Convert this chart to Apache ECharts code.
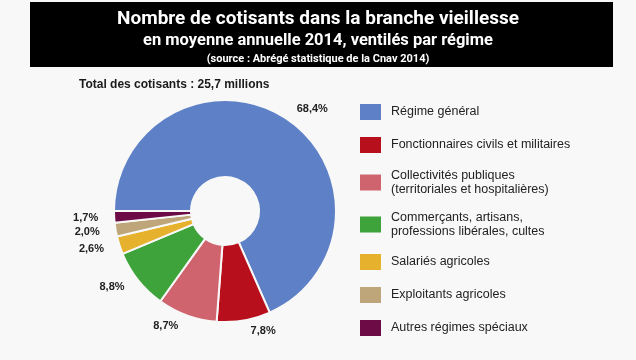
<!DOCTYPE html>
<html><head><meta charset="utf-8">
<script src="https://cdn.jsdelivr.net/npm/echarts@6/dist/echarts.min.js"></script>
<style>html,body{margin:0;padding:0;background:#f8f8f8}#c{width:636px;height:360px}</style>
</head><body><div id="c"></div>
<script>
const categories = [
  'Régime général',
  'Fonctionnaires civils et militaires',
  'Collectivités publiques\n(territoriales et hospitalières)',
  'Commerçants, artisans,\nprofessions libérales, cultes',
  'Salariés agricoles',
  'Exploitants agricoles',
  'Autres régimes spéciaux'
];
const shares = [68.4, 7.8, 8.7, 8.8, 2.6, 2.0, 1.7];
const colors = ['#5d80c6', '#b80f1c', '#d0646e', '#3ea33a', '#e6b22e', '#bfa57a', '#6c0b45'];
const titleLines = [
  'Nombre de cotisants dans la branche vieillesse',
  'en moyenne annuelle 2014, ventilés par régime',
  '(source : Abrégé statistique de la Cnav 2014)'
];
const totalText = 'Total des cotisants : 25,7 millions';

const chart = echarts.init(document.getElementById('c'));
chart.setOption({
  backgroundColor: '#f8f8f8',
  animation: false,
  graphic: [{
    type: 'rect', left: 30, top: 2, shape: { width: 583, height: 65 },
    style: { fill: '#000' }, z: 0
  }],
  title: [{
    text: '{a|' + titleLines[0] + '}\n{b|' + titleLines[1] + '}\n{c|' + titleLines[2] + '}',
    left: 'center', top: 8, padding: 0,
    textStyle: {
      rich: {
        a: { fontFamily: 'Roboto', fontWeight: 'bold', fontSize: 19, color: '#fff', lineHeight: 22 },
        b: { fontFamily: 'Roboto', fontWeight: 'bold', fontSize: 16.5, color: '#fff', lineHeight: 21 },
        c: { fontFamily: 'Roboto', fontWeight: 'bold', fontSize: 11, color: '#fff', lineHeight: 16 }
      }
    }
  }, {
    text: totalText, left: 79, top: 79, padding: 0,
    textStyle: { fontFamily: 'Liberation Sans', fontWeight: 'bold', fontSize: 12, color: '#1a1a1a' }
  }],
  legend: {
    orient: 'vertical', left: 358, top: 102, padding: 0,
    itemWidth: 23, itemHeight: 18, itemGap: 13,
    icon: 'rect',
    data: categories,
    textStyle: { fontFamily: 'Liberation Sans', fontSize: 12.5, color: '#222', lineHeight: 14.5, padding: [0, 0, 0, 4] }
  },
  series: [{
    type: 'pie',
    center: [225, 211],
    radius: [34, 111],
    startAngle: 180,
    clockwise: true,
    avoidLabelOverlap: false,
    itemStyle: { borderColor: '#f8f8f8', borderWidth: 2 },
    label: {
      show: true, position: 'outside',
      formatter: p => p.value.toFixed(1).replace('.', ',') + '%',
      fontFamily: 'Liberation Sans', fontWeight: 'bold', fontSize: 11, color: '#222'
    },
    labelLine: { show: false, length: 11, length2: 0 },
    data: categories.map((c, i) => ({ name: c, value: shares[i], itemStyle: { color: colors[i] } }))
  }]
});
</script></body></html>
